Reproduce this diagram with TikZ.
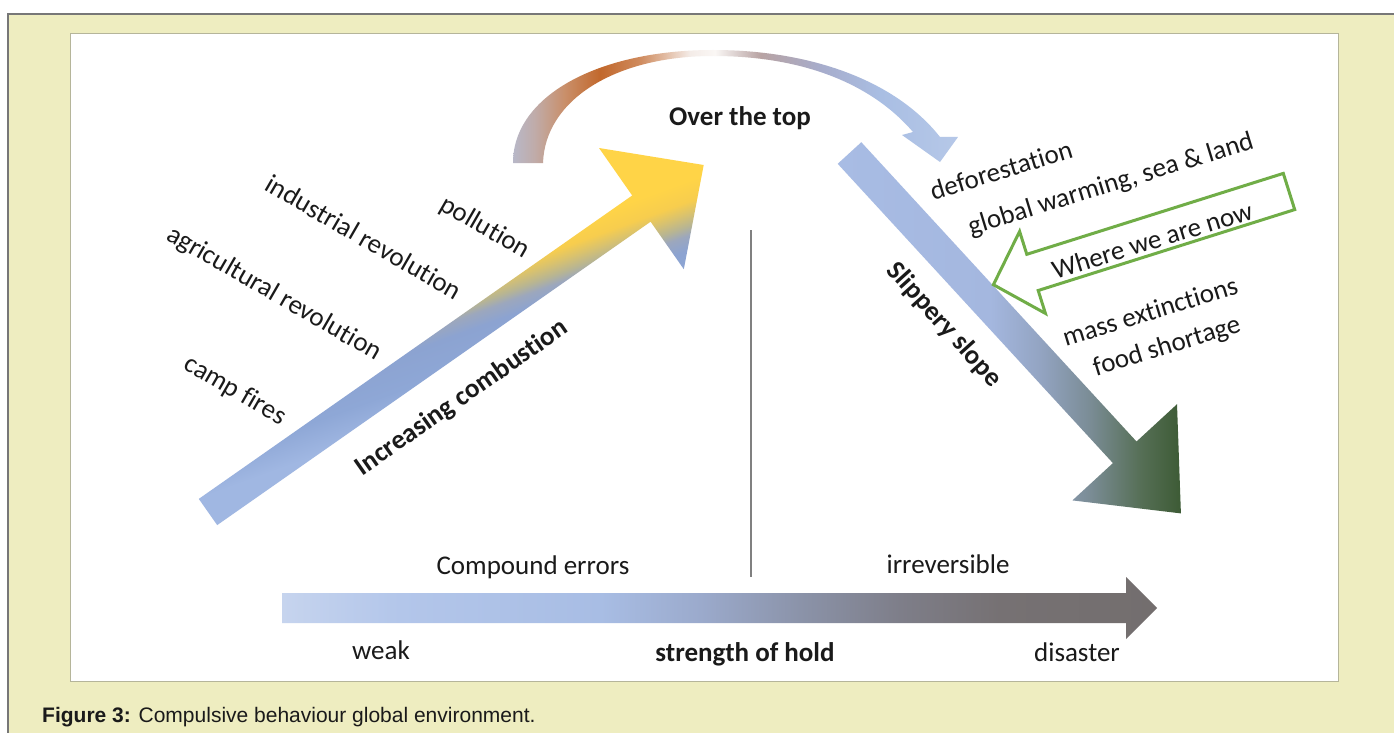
\documentclass[tikz,border=0pt]{standalone}
\usepackage{fontspec}
\setmainfont{Carlito}[Ligatures=NoCommon]
\newfontfamily\capfont{Liberation Sans}
\usetikzlibrary{positioning}

\definecolor{paper}{HTML}{EEEDC0}
\definecolor{frameline}{HTML}{777777}
\definecolor{boxline}{HTML}{B5B59A}
\definecolor{txt}{HTML}{1A1A1A}
\definecolor{nowgreen}{HTML}{70AD47}
% combustion arrow
\definecolor{cbA}{HTML}{A0B7E2}
\definecolor{cbB}{HTML}{8EA7D6}
\definecolor{cbC}{HTML}{8CA3D1}
\definecolor{cbD}{HTML}{9CA7BD}
\definecolor{cbE}{HTML}{B8B592}
\definecolor{cbF}{HTML}{D9C26E}
\definecolor{cbG}{HTML}{F7CD4E}
\definecolor{cbH}{HTML}{FFD447}
% over the top arc
\definecolor{otA}{HTML}{B8B8C8}
\definecolor{otB}{HTML}{C0ABA8}
\definecolor{otC}{HTML}{C98F6A}
\definecolor{otD}{HTML}{C2682C}
\definecolor{otE}{HTML}{CF8B5E}
\definecolor{otF}{HTML}{F4ECE8}
\definecolor{otG}{HTML}{FAF7F5}
\definecolor{otH}{HTML}{B8A3A3}
\definecolor{otI}{HTML}{A7ACCB}
\definecolor{otJ}{HTML}{A9BEE3}
\definecolor{otK}{HTML}{B6C8E8}
% slippery slope
\definecolor{ssA}{HTML}{A8BCE4}
\definecolor{ssB}{HTML}{A4B7DF}
\definecolor{ssC}{HTML}{93A4C2}
\definecolor{ssD}{HTML}{7A8C95}
\definecolor{ssE}{HTML}{566F56}
\definecolor{ssF}{HTML}{3D5B35}
% strength of hold
\definecolor{shA}{HTML}{C6D4EE}
\definecolor{shB}{HTML}{B3C6EA}
\definecolor{shC}{HTML}{A8BDE4}
\definecolor{shD}{HTML}{9BAACC}
\definecolor{shE}{HTML}{8B93A9}
\definecolor{shF}{HTML}{7E7E89}
\definecolor{shG}{HTML}{767173}
\definecolor{shH}{HTML}{736E6E}

% tilted by 20 degrees when used
\pgfdeclareverticalshading{combust}{100bp}{color(0bp)=(cbA); color(42bp)=(cbA);
  color(46bp)=(cbB); color(50bp)=(cbC); color(51.7bp)=(cbD); color(52.8bp)=(cbE);
  color(54.2bp)=(cbF); color(55.6bp)=(cbG); color(58bp)=(cbH); color(100bp)=(cbH)}
\pgfdeclarehorizontalshading{overtop}{100bp}{color(0bp)=(otA); color(25bp)=(otA);
  color(27.5bp)=(otB); color(30.8bp)=(otC); color(34.8bp)=(otD); color(39.3bp)=(otE);
  color(44.9bp)=(otF); color(47.7bp)=(otG); color(52.8bp)=(otH); color(59.5bp)=(otI);
  color(66.3bp)=(otJ); color(75bp)=(otK); color(100bp)=(otK)}
\pgfdeclarehorizontalshading{slippery}{100bp}{color(0bp)=(ssA); color(25bp)=(ssA);
  color(47.2bp)=(ssB); color(54.5bp)=(ssC); color(61.8bp)=(ssD); color(69.1bp)=(ssE);
  color(75bp)=(ssF); color(100bp)=(ssF)}
\pgfdeclarehorizontalshading{hold}{100bp}{color(0bp)=(shA); color(25bp)=(shA);
  color(31.7bp)=(shB); color(43.2bp)=(shC); color(48.9bp)=(shD); color(54.6bp)=(shE);
  color(60.3bp)=(shF); color(66bp)=(shG); color(75bp)=(shH); color(100bp)=(shH)}

\tikzset{
  lbl/.style={font=\fontsize{27}{32}\selectfont, text=txt, inner sep=0pt},
  bold/.style={font=\fontsize{27}{32}\selectfont\bfseries},
}

\begin{document}
\begin{tikzpicture}[x=1pt,y=-1pt]
  \useasboundingbox (0,0) rectangle (1394,733);
  % page and frame
  \fill[white] (0,0) rectangle (1394,733);
  \fill[paper] (8,14) rectangle (1394,733);
  \draw[frameline,line width=1.5pt] (8,733) -- (8,14) -- (1394,14);
  \draw[boxline,fill=white,line width=1pt] (70,34) rectangle (1338,681);

  % increasing combustion
  \shade[shading=combust,shading angle=20] (198.8,498.9) -- (632.2,195.5) -- (599.0,148.0) -- (703.7,165.0)
    -- (683.8,269.2) -- (650.6,221.7) -- (217.2,525.1) -- cycle;
  % over the top
  \shade[shading=overtop] (513,163) .. controls (513,95) and (600,50) .. (713,50)
    .. controls (810,50) and (895,80) .. (940,137) -- (958,137) -- (940,162) -- (902,135)
    -- (913,132) .. controls (870,82) and (800,56) .. (713,56)
    .. controls (615,56) and (545,100) .. (543,163) -- cycle;
  % slippery slope
  \shade[shading=slippery] (861.3,142.2) -- (1136.5,441.5) -- (1177.0,404.2) -- (1180.9,513.4)
    -- (1072.4,500.4) -- (1112.9,463.1) -- (837.7,163.8) -- cycle;
  % strength of hold
  \shade[shading=hold] (282,593) -- (1126,593) -- (1126,577) -- (1157,608) -- (1126,639)
    -- (1126,623) -- (282,623) -- cycle;
  % where we are now
  \draw[nowgreen,line width=3pt,miter limit=20] (1283.3,173.4) -- (1026.8,254.3) -- (1019.6,231.4)
    -- (993.4,284.7) -- (1045.4,313.4) -- (1038.2,290.5) -- (1294.7,209.6) -- cycle;
  % divider
  \draw[gray,line width=1.5pt] (751,230) -- (751,577);

  % left labels
  \node[lbl,rotate=-30] (campfires) at (235,391) {camp fires};
  \node[lbl,rotate=-30] (agri) at (274,294) {agricultural revolution};
  \node[lbl,rotate=-30] (indus) at (364,237) {industrial revolution};
  \node[lbl,rotate=-30] (pollution) at (485,228) {pollution};
  \node[lbl,bold,rotate=35] (combustion) at (462,398) {Increasing combustion};
  \node[lbl,bold] (overthetop) at (740,118) {Over the top};
  % right labels
  \node[lbl,rotate=17] (defor) at (1001,170) {deforestation};
  \node[lbl,rotate=17] (warming) at (1111,185) {global warming, sea \& land};
  \node[lbl,rotate=17] (wherenow) at (1152,240) {Where we are now};
  \node[lbl,rotate=17] (extinct) at (1150,311) {mass extinctions};
  \node[lbl,rotate=17] (food) at (1167,347) {food shortage};
  \node[lbl,bold,rotate=-48] (slope) at (944,325) {Slippery slope};
  % bottom labels
  \node[lbl,anchor=base] (compound) at (533,574) {Compound errors};
  \node[lbl,anchor=base] (irrev) at (948,573) {irreversible};
  \node[lbl,anchor=base] (weak) at (381,659) {weak};
  \node[lbl,bold,anchor=base] (hold) at (745,661) {strength of hold};
  \node[lbl,anchor=base] (disaster) at (1077,661) {disaster};

  % caption
  \node[anchor=base west,inner sep=0pt,text=txt,font=\capfont\fontsize{21}{25}\selectfont]
    (caption) at (42,722) {\textbf{Figure 3:} Compulsive behaviour global environment.};
\end{tikzpicture}
\end{document}
